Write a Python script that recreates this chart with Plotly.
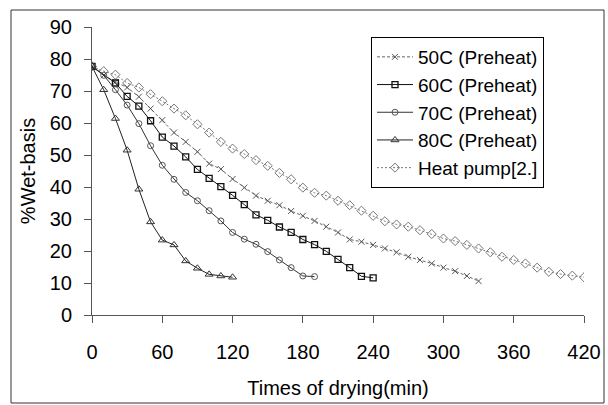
import plotly.graph_objects as go

# ---- data ----
t50 = [0, 10, 20, 30, 40, 50, 60, 70, 80, 90, 100, 110, 120, 130, 140, 150, 160, 170,
       180, 190, 200, 210, 220, 230, 240, 250, 260, 270, 280, 290, 300, 310, 320, 330]
y50 = [77.7, 74.9, 72.8, 71.1, 68.2, 64.5, 60.9, 57.0, 54.1, 51.0, 47.3, 45.6, 42.5, 39.8,
       37.3, 35.7, 34.3, 32.5, 31.0, 29.4, 27.6, 25.8, 23.6, 22.9, 21.9, 20.8, 19.6, 18.2,
       17.2, 16.1, 14.8, 13.7, 12.2, 10.6]

t60 = [0, 20, 30, 40, 50, 60, 70, 80, 90, 100, 110, 120, 130, 140, 150, 160, 170, 180,
       190, 200, 210, 220, 230, 240]
y60 = [77.7, 72.5, 68.3, 65.3, 60.7, 55.6, 52.8, 49.4, 45.5, 42.7, 40.1, 37.4, 34.5, 31.3,
       29.6, 27.5, 25.8, 23.6, 22.0, 19.9, 17.4, 14.8, 12.1, 11.6]

t70 = [0, 10, 20, 30, 40, 50, 60, 70, 80, 90, 100, 110, 120, 130, 140, 150, 160, 170, 180, 190]
y70 = [77.7, 74.9, 70.4, 65.6, 59.8, 52.9, 46.8, 42.4, 38.3, 35.7, 32.6, 29.4, 25.8, 23.7,
       22.1, 19.8, 17.2, 14.8, 12.2, 12.0]

t80 = [0, 10, 20, 30, 40, 50, 60, 70, 80, 90, 100, 110, 120]
y80 = [77.7, 70.4, 61.4, 51.5, 39.3, 29.1, 23.4, 21.9, 16.9, 14.6, 12.7, 12.2, 11.8]

thp = [0, 10, 20, 30, 40, 50, 60, 70, 80, 90, 100, 110, 120, 130, 140, 150, 160, 170, 180,
       190, 200, 210, 220, 230, 240, 250, 260, 270, 280, 290, 300, 310, 320, 330, 340, 350,
       360, 370, 380, 390, 400, 410, 420]
yhp = [77.7, 76.2, 75.1, 72.5, 71.1, 69.0, 66.8, 64.5, 62.4, 59.6, 57.0, 54.1, 52.0, 50.3,
       48.4, 46.6, 44.4, 42.4, 39.8, 38.2, 37.3, 35.7, 34.3, 32.6, 31.0, 29.3, 28.3, 27.6,
       26.5, 25.3, 23.9, 23.1, 21.9, 20.8, 19.6, 18.2, 17.2, 16.1, 14.8, 13.5, 12.8, 12.3, 11.8]

names = ["50C (Preheat)", "60C (Preheat)", "70C (Preheat)", "80C (Preheat)", "Heat pump[2.]"]
x_ticks = [0, 60, 120, 180, 240, 300, 360, 420]
y_ticks = [0, 10, 20, 30, 40, 50, 60, 70, 80, 90]

FONT = "Liberation Sans, Arial, sans-serif"
FS = 20

fig = go.Figure()
fig.add_trace(go.Scatter(x=thp, y=yhp, name=names[4], mode="lines+markers", legendgroup="hp",
                         line=dict(color="#777777", width=1, dash="2px,2px"),
                         marker=dict(symbol="diamond-open", size=7, color="#777777",
                                     line=dict(width=1))))
fig.add_trace(go.Scatter(x=t50, y=y50, name=names[0], mode="lines+markers", legendgroup="g50",
                         line=dict(color="#666666", width=1, dash="3px,2px"),
                         marker=dict(symbol="x-thin-open", size=6, color="#555555",
                                     line=dict(width=1, color="#555555"))))
fig.add_trace(go.Scatter(x=t60, y=y60, name=names[1], mode="lines+markers", legendgroup="g60",
                         line=dict(color="#111111", width=1),
                         marker=dict(symbol="square-open", size=6, color="#111111",
                                     line=dict(width=1.3))))
fig.add_trace(go.Scatter(x=t70, y=y70, name=names[2], mode="lines+markers", legendgroup="g70",
                         line=dict(color="#333333", width=1),
                         marker=dict(symbol="circle-open", size=6, color="#555555",
                                     line=dict(width=1))))
fig.add_trace(go.Scatter(x=t80, y=y80, name=names[3], mode="lines+markers", legendgroup="g80",
                         line=dict(color="#222222", width=1),
                         marker=dict(symbol="triangle-up-open", size=7, color="#333333",
                                     line=dict(width=1))))

fig.update_layout(
    width=608, height=405,
    margin=dict(l=92, r=24, t=27, b=90),
    paper_bgcolor="white", plot_bgcolor="white",
    font=dict(family=FONT, size=FS, color="black"),
    showlegend=True,
    legend=dict(x=(371 - 92) / 492, y=(315 - 37) / 288, xanchor="left", yanchor="top",
                bgcolor="white", bordercolor="black", borderwidth=1,
                font=dict(family=FONT, size=19, color="black"),
                traceorder="normal", tracegroupgap=4, itemwidth=36),
    xaxis=dict(range=[0, 420], tickvals=x_ticks, ticktext=[str(v) for v in x_ticks],
               showgrid=False, zeroline=False, showline=True, linecolor="#555555",
               linewidth=1, ticks="outside", ticklen=7, tickcolor="#555555",
               ticklabelstandoff=12, automargin=False,
               title=dict(text="Times of drying(min)", font=dict(size=FS), standoff=18)),
    yaxis=dict(range=[0, 90], tickvals=y_ticks, ticktext=[str(v) for v in y_ticks],
               showgrid=False, zeroline=False, showline=True, linecolor="#555555",
               linewidth=1, ticks="outside", ticklen=7, tickcolor="#555555",
               ticklabelstandoff=8, automargin=False,
               title=dict(text="%Wet-basis", font=dict(size=FS), standoff=8)),
    shapes=[dict(type="rect", xref="paper", yref="paper",
                 x0=(11 - 92) / 492, x1=(604 - 92) / 492,
                 y0=(315 - 403) / 288, y1=(315 - 10) / 288,
                 line=dict(color="#333333", width=1), layer="above")],
)

for tr, rank in zip(fig.data, [5, 1, 2, 3, 4]):
    tr.legendrank = rank

fig.write_html("out.html", config={"displayModeBar": False},
               post_script="document.body.style.margin='0px';document.body.style.overflow='hidden';")
